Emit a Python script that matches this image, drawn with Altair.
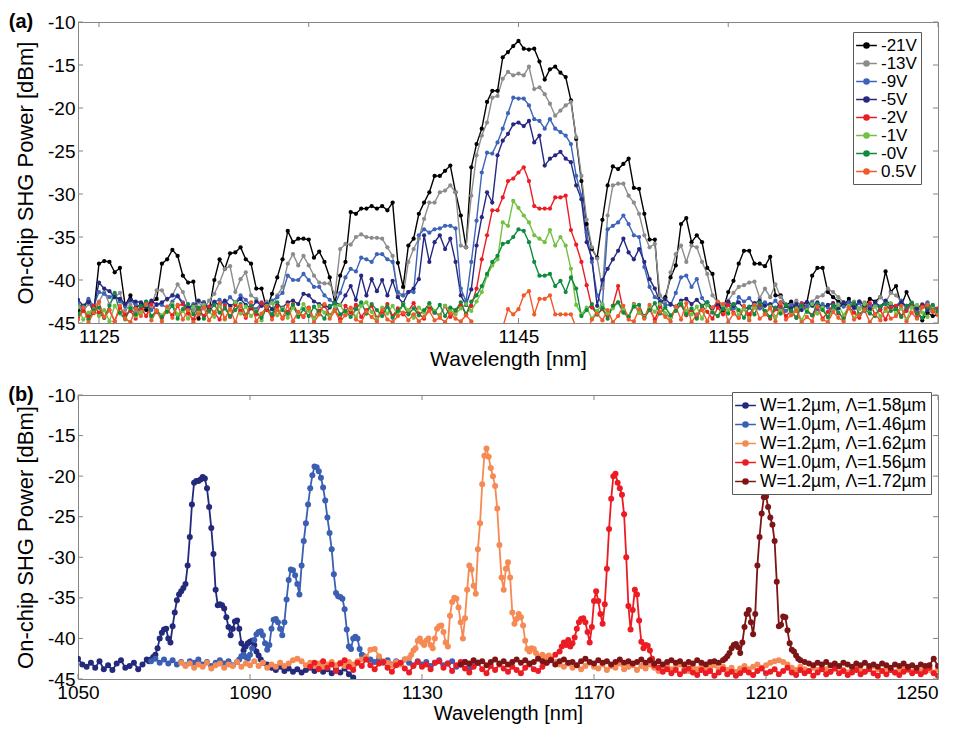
import altair as alt
import pandas as pd

alt.data_transformers.disable_max_rows()

FONT = "Liberation Sans"
GRAY = "#858585"

# ---------------- Panel (a): bias-voltage sweep ----------------
a_series = ["-21V", "-13V", "-9V", "-5V", "-2V", "-1V", "-0V", "0.5V"]
a_colors = ["#000000", "#8c8c8c", "#3d64b8", "#262880", "#ed1c24", "#74c043", "#0f8b3d", "#f15a29"]
a_start = 1124.0
a_step = 0.25
a_xticks = [1125, 1135, 1145, 1155, 1165]
y_ticks = [-45, -40, -35, -30, -25, -20, -15, -10]

a_m21 = [-43.5, -43.0, -42.4, -43.8, -38.1, -37.8, -37.9, -39.1,
         -38.6, -43.0, -41.8, -43.2, -42.8, -43.5, -42.6, -42.2,
         -38.1, -37.6, -36.5, -37.2, -39.5, -40.3, -40.2, -44.5,
         -42.6, -43.6, -40.0, -37.6, -38.7, -36.9, -36.8, -36.2,
         -37.6, -38.1, -41.0, -41.0, -43.4, -41.6, -39.7, -37.6,
         -34.3, -35.6, -35.2, -35.2, -35.3, -37.4, -36.7, -37.9,
         -39.7, -42.7, -39.5, -37.9, -32.1, -32.3, -31.7, -31.7,
         -31.4, -31.7, -31.4, -31.9, -31.0, -38.0, -40.8, -36.0,
         -35.2, -32.3, -31.0, -29.8, -27.9, -27.9, -27.3, -26.7,
         -29.8, -32.5, -36.2, -26.9, -24.2, -22.4, -19.3, -18.0,
         -18.0, -14.1, -13.5, -12.8, -12.2, -13.1, -13.2, -13.1,
         -14.6, -16.7, -15.5, -15.2, -15.9, -16.4, -19.1, -23.6,
         -28.5, -33.5, -36.4, -37.4, -33.0, -29.0, -26.8, -27.1,
         -26.5, -25.9, -29.3, -29.4, -32.3, -35.3, -35.3, -43.0,
         -42.0, -39.7, -38.3, -33.5, -32.8, -35.6, -34.8, -35.6,
         -38.6, -39.3, -43.0, -43.5, -41.4, -40.1, -38.1, -36.6,
         -36.6, -38.1, -38.1, -38.4, -37.3, -41.8, -41.8, -43.0,
         -42.5, -43.3, -42.8, -42.6, -39.5, -38.6, -38.6, -41.4,
         -42.0, -42.5, -43.0, -42.2, -43.2, -42.5, -43.0, -42.2,
         -42.5, -42.0, -39.0, -41.4, -40.7, -43.0, -41.4, -42.8,
         -43.5, -44.7, -43.8, -44.2, -44.0]

a_m13 = [-43.0, -43.6, -42.8, -43.2, -42.5, -41.4, -42.8, -42.0,
         -41.5, -43.5, -42.9, -43.6, -43.2, -42.5, -43.0, -41.2,
         -41.2, -42.3, -41.8, -40.5, -41.4, -43.0, -43.5, -42.6,
         -43.3, -42.4, -41.6, -40.3, -38.7, -38.4, -41.4, -39.9,
         -39.1, -41.8, -42.2, -43.0, -42.5, -43.4, -41.8, -40.8,
         -38.1, -37.0, -38.3, -37.2, -38.3, -39.5, -40.3, -40.4,
         -40.4, -41.7, -36.4, -35.8, -35.9, -35.0, -34.7, -35.0,
         -35.1, -35.1, -35.2, -36.2, -37.2, -41.8, -41.8, -37.9,
         -36.4, -35.2, -32.9, -31.0, -31.0, -29.8, -29.6, -29.0,
         -29.8, -36.0, -36.2, -30.2, -25.5, -23.2, -21.7, -18.8,
         -18.6, -16.6, -15.8, -16.2, -16.0, -16.2, -15.2, -17.8,
         -17.6, -18.4, -19.5, -20.9, -20.3, -19.7, -19.3, -23.4,
         -27.9, -33.0, -36.2, -37.5, -41.0, -32.5, -29.0, -28.8,
         -28.8, -30.2, -31.0, -32.3, -34.8, -36.2, -35.8, -41.8,
         -42.5, -39.1, -37.0, -36.0, -37.9, -36.0, -36.2, -37.9,
         -39.3, -41.8, -42.6, -43.0, -42.4, -41.5, -40.8, -40.6,
         -40.3, -40.2, -42.1, -41.0, -42.0, -40.5, -42.0, -42.8,
         -43.0, -42.4, -43.2, -42.8, -42.5, -42.0, -41.8, -41.0,
         -41.4, -42.0, -42.6, -43.0, -42.5, -43.3, -42.6, -43.0,
         -42.8, -42.0, -42.6, -41.5, -41.8, -42.5, -43.1, -42.6,
         -43.3, -42.8, -43.5, -43.0, -43.4]

a_m9 = [-42.6, -43.4, -42.2, -43.0, -41.4, -41.6, -42.0, -41.7,
        -42.5, -43.0, -42.4, -42.8, -43.2, -42.6, -43.5, -42.8,
        -42.9, -43.2, -42.5, -41.8, -42.6, -43.3, -42.8, -43.5,
        -42.6, -43.2, -42.5, -42.3, -42.8, -42.0, -42.6, -41.8,
        -42.3, -43.0, -43.4, -42.6, -42.9, -42.4, -42.0, -41.5,
        -39.5, -40.0, -40.0, -39.3, -40.0, -40.8, -40.8, -41.8,
        -42.3, -42.8, -41.5, -39.7, -38.7, -39.0, -37.4, -37.6,
        -37.9, -37.0, -37.0, -37.6, -37.9, -41.4, -41.8, -41.4,
        -41.4, -34.8, -34.1, -34.5, -34.1, -34.0, -33.7, -33.7,
        -34.0, -41.0, -42.5, -37.9, -33.1, -27.5, -25.2, -25.3,
        -24.0, -22.4, -20.6, -18.8, -18.9, -18.9, -19.7, -21.3,
        -21.5, -22.4, -21.3, -22.4, -22.8, -23.2, -24.2, -27.9,
        -30.2, -34.5, -37.9, -41.8, -42.9, -34.1, -33.7, -33.3,
        -32.5, -33.5, -34.8, -35.0, -38.5, -40.8, -42.0, -42.4,
        -42.9, -42.9, -41.5, -39.7, -39.5, -40.8, -39.9, -42.1,
        -42.9, -43.2, -42.6, -43.4, -42.8, -43.3, -42.0, -42.5,
        -42.1, -42.9, -43.3, -42.6, -43.0, -42.4, -43.2, -43.6,
        -42.9, -43.4, -42.7, -43.1, -42.6, -43.4, -42.8, -43.2,
        -43.5, -42.8, -43.1, -42.6, -43.3, -42.7, -43.6, -43.0,
        -42.8, -43.4, -42.5, -43.2, -43.0, -42.4, -43.3, -42.8,
        -43.6, -43.1, -42.6, -43.4, -43.8]

a_m5 = [-42.3, -43.0, -42.6, -43.2, -40.3, -41.0, -41.3, -42.0,
        -42.2, -42.8, -42.3, -42.5, -42.6, -43.1, -42.4, -42.9,
        -42.6, -42.2, -41.8, -41.9, -42.8, -43.2, -43.0, -42.4,
        -42.8, -43.3, -42.6, -42.9, -42.4, -43.0, -42.7, -42.2,
        -42.9, -43.3, -42.5, -43.0, -42.8, -43.4, -42.9, -43.2,
        -42.6, -42.4, -42.8, -41.6, -41.8, -42.5, -42.8, -43.0,
        -43.2, -42.6, -42.9, -41.8, -40.7, -42.3, -39.5, -41.8,
        -39.9, -41.3, -40.0, -41.8, -40.1, -42.0, -42.7, -41.4,
        -41.0, -39.9, -34.8, -37.9, -35.6, -34.8, -36.4, -35.2,
        -37.9, -41.8, -42.9, -41.1, -36.0, -32.7, -29.8, -31.0,
        -25.5, -23.8, -23.0, -21.9, -21.7, -22.1, -21.5, -24.0,
        -23.2, -26.7, -25.9, -25.5, -25.1, -25.9, -26.3, -29.0,
        -30.6, -35.6, -37.5, -43.0, -40.0, -38.7, -37.6, -36.6,
        -35.2, -36.8, -37.6, -36.4, -37.9, -39.9, -41.0, -42.6,
        -42.2, -42.8, -43.1, -42.4, -42.2, -42.8, -42.3, -43.0,
        -42.6, -43.3, -42.8, -43.4, -42.5, -43.0, -42.6, -43.3,
        -43.2, -42.7, -42.4, -43.0, -42.8, -43.4, -42.6, -42.9,
        -43.3, -42.8, -43.5, -42.6, -43.0, -42.6, -43.2, -42.9,
        -42.7, -43.3, -42.6, -43.0, -43.2, -42.5, -42.9, -43.4,
        -42.6, -43.1, -42.4, -42.8, -43.2, -42.6, -43.0, -42.7,
        -43.3, -42.9, -43.5, -43.1, -44.0]

a_m2 = [-44.5, -43.6, -44.2, -43.0, -43.8, -44.4, -43.5, -44.8,
        -43.2, -44.0, -43.6, -44.5, -43.3, -44.2, -42.8, -43.7,
        -44.4, -43.5, -44.1, -43.0, -42.8, -43.9, -44.6, -43.4,
        -44.2, -43.1, -43.8, -44.6, -43.0, -44.3, -42.9, -43.6,
        -44.4, -43.2, -44.0, -42.7, -43.5, -44.2, -43.1, -44.5,
        -43.7, -42.8, -43.9, -44.3, -43.2, -44.5, -43.6, -42.9,
        -44.1, -43.4, -44.6, -43.0, -43.8, -42.9, -44.3, -43.5,
        -43.0, -44.4, -43.7, -42.8, -44.2, -43.3, -44.0, -43.6,
        -42.7, -43.9, -44.5, -43.2, -43.8, -44.1, -43.0, -44.3,
        -43.6, -42.9, -44.0, -43.0, -41.0, -37.6, -34.8, -31.9,
        -31.9, -30.4, -28.5, -28.2, -27.5, -26.9, -28.5, -31.4,
        -31.7, -31.7, -31.7, -30.4, -30.4, -30.2, -34.2, -35.9,
        -37.9, -40.6, -43.2, -44.0, -43.4, -44.2, -43.0, -40.7,
        -43.6, -44.3, -42.8, -43.8, -44.2, -43.4, -44.6, -43.1,
        -43.9, -44.4, -43.2, -42.9, -44.1, -43.5, -44.3, -43.0,
        -43.7, -44.5, -43.2, -44.0, -42.9, -43.8, -44.4, -43.3,
        -44.0, -43.1, -42.9, -43.9, -44.5, -43.4, -43.0, -44.2,
        -43.6, -44.4, -42.8, -43.5, -44.1, -43.2, -44.5, -43.7,
        -42.9, -43.9, -44.3, -43.1, -43.8, -44.4, -43.3, -42.7,
        -44.0, -43.5, -44.6, -43.2, -43.0, -44.2, -43.6, -42.8,
        -44.4, -43.1, -42.9, -43.7, -43.3]

a_m1 = [-43.2, -44.6, -43.8, -43.4, -44.2, -43.5, -44.8, -43.0,
        -43.9, -44.6, -43.2, -44.2, -43.8, -42.9, -44.4, -43.5,
        -44.1, -43.3, -42.8, -44.0, -43.6, -44.5, -43.1, -43.8,
        -42.9, -43.7, -44.3, -43.0, -44.6, -43.4, -42.6, -43.9,
        -43.1, -44.2, -43.6, -44.7, -43.0, -42.7, -44.1, -43.3,
        -44.4, -43.2, -43.9, -42.8, -43.6, -44.5, -43.0, -43.8,
        -44.2, -43.1, -42.9, -44.0, -43.4, -44.3, -43.0, -42.6,
        -43.7, -44.5, -43.2, -43.9, -43.0, -44.1, -42.8, -43.5,
        -44.4, -43.2, -43.8, -42.9, -43.6, -44.2, -43.0, -43.5,
        -44.0, -43.3, -42.8, -43.6, -42.5, -41.4, -39.5, -38.3,
        -37.6, -33.3, -33.7, -30.8, -31.6, -32.5, -33.3, -34.8,
        -35.2, -35.6, -34.2, -36.0, -35.0, -36.0, -38.7, -42.9,
        -44.0, -43.2, -44.5, -43.6, -42.8, -43.9, -43.3, -42.6,
        -43.4, -44.2, -42.9, -43.8, -44.3, -43.1, -43.7, -42.8,
        -43.9, -44.4, -43.2, -42.7, -43.6, -44.0, -43.1, -44.5,
        -42.9, -43.7, -44.2, -43.0, -43.5, -42.8, -44.1, -43.4,
        -44.6, -43.2, -42.7, -43.9, -43.1, -44.3, -43.6, -42.9,
        -44.0, -43.3, -44.7, -43.5, -42.8, -43.9, -43.2, -44.4,
        -43.6, -42.9, -44.1, -43.0, -44.5, -43.4, -42.8, -43.8,
        -43.1, -44.2, -43.6, -42.7, -44.0, -43.3, -44.6, -43.2,
        -42.9, -43.8, -44.3, -43.1, -44.0]

a_m0 = [-44.0, -43.1, -44.6, -43.5, -43.2, -44.4, -43.0, -41.5,
        -43.8, -44.5, -43.3, -44.0, -43.0, -42.5, -44.2, -43.6,
        -44.3, -43.7, -43.0, -44.5, -43.4, -42.8, -44.0, -43.2,
        -44.5, -43.6, -42.9, -43.8, -43.3, -44.2, -43.5, -42.8,
        -44.1, -43.0, -43.7, -44.4, -43.2, -44.0, -42.6, -43.5,
        -43.9, -42.9, -44.3, -43.4, -44.2, -43.1, -43.8, -44.5,
        -43.0, -42.7, -44.0, -43.6, -44.3, -43.4, -42.6, -43.9,
        -42.8, -43.5, -44.2, -43.1, -44.4, -43.6, -42.9, -44.0,
        -43.3, -44.1, -43.5, -42.7, -43.8, -42.9, -44.2, -43.2,
        -43.5, -42.6, -44.0, -42.5, -41.8, -40.7, -39.3, -37.9,
        -37.2, -35.8, -35.6, -35.0, -34.1, -34.3, -35.6, -37.9,
        -39.5, -39.5, -39.3, -40.7, -40.1, -41.4, -39.7, -41.0,
        -44.2, -43.5, -42.8, -44.0, -43.3, -44.5, -43.0, -42.6,
        -43.8, -44.3, -43.1, -42.9, -44.4, -43.5, -42.7, -43.9,
        -43.2, -44.1, -43.6, -42.8, -44.0, -43.3, -44.5, -43.0,
        -42.6, -43.8, -44.2, -43.4, -43.9, -42.8, -43.5, -44.4,
        -43.1, -44.0, -42.7, -43.6, -44.3, -43.2, -43.9, -42.9,
        -43.6, -44.4, -43.0, -43.7, -44.1, -42.8, -43.5, -44.3,
        -43.0, -43.8, -44.5, -43.2, -42.7, -44.0, -43.4, -43.9,
        -44.2, -43.1, -42.8, -43.6, -43.4, -44.3, -43.0, -42.7,
        -43.9, -44.4, -43.2, -42.9, -43.6]

a_p05 = [-44.6, -43.2, -44.9, -43.8, -42.6, -44.3, -43.5, -44.8,
         -43.0, -44.5, -44.9, -43.3, -44.2, -42.8, -44.7, -43.6,
         -44.8, -43.1, -44.4, -42.9, -44.6, -43.5, -44.9, -44.0,
         -43.2, -44.7, -43.8, -42.7, -44.5, -43.4, -44.9, -43.0,
         -44.2, -42.6, -44.8, -43.9, -43.1, -44.6, -43.5, -44.4,
         -42.9, -44.8, -43.7, -44.2, -43.3, -44.9, -44.0, -42.8,
         -44.5, -43.6, -44.8, -44.1, -43.2, -44.6, -44.9, -43.7,
         -44.3, -44.8, -43.5, -44.6, -44.9, -44.2, -43.8, -44.7,
         -44.0, -44.8, -44.3, -43.6, -44.7, -44.4, -44.9, -43.9,
         -44.5, -44.8, -44.1, -44.8, -46.0, -47.0, -48.0, -47.5,
         -47.0, -45.5, -43.4, -44.0, -43.4, -41.8, -41.3, -44.0,
         -42.2, -42.2, -41.8, -44.0, -44.0, -44.0, -44.0, -45.5,
         -47.0, -46.0, -44.6, -43.9, -44.7, -43.5, -44.9, -44.2,
         -43.0, -44.6, -44.8, -43.4, -44.5, -42.9, -44.9, -43.7,
         -44.3, -44.8, -43.1, -44.6, -42.7, -44.9, -44.0, -43.5,
         -44.8, -43.2, -42.5, -42.8, -44.9, -43.9, -44.4, -43.0,
         -44.7, -42.9, -44.5, -44.0, -43.3, -44.8, -42.7, -44.6,
         -44.1, -43.6, -44.9, -44.3, -44.8, -43.1, -44.6, -44.9,
         -43.7, -44.4, -44.8, -43.2, -44.6, -44.1, -43.5, -44.9,
         -44.0, -44.7, -43.3, -44.5, -44.2, -43.0, -44.8, -43.8,
         -44.5, -43.2, -42.9, -43.6, -44.1]

# ---------------- Panel (b): different devices ----------------
b_series = ["W=1.2µm, Λ=1.58µm", "W=1.0µm, Λ=1.46µm", "W=1.2µm, Λ=1.62µm",
            "W=1.0µm, Λ=1.56µm", "W=1.2µm, Λ=1.72µm"]
b_colors = ["#232a7c", "#3b5fb3", "#f58a55", "#ec1c24", "#7d1517"]
b_xticks = [1050, 1090, 1130, 1170, 1210, 1250]

# each trace: (start wavelength, step [nm], values)
navy_lo = (1050.0, 1.0, [-42.5, -43.2, -43.5, -43.0, -43.6, -42.8, -43.8, -43.3, -43.9, -43.1,
                         -42.7, -43.6, -43.4, -43.0, -43.8, -43.2, -42.6])
navy_pk = (1066.5, 0.5, [-42.8, -42.6, -42.3, -42.0, -41.2, -40.0, -39.3, -38.9, -38.8, -40.0,
                         -40.5, -38.5, -36.8, -35.3, -34.6, -34.2, -33.8, -33.3, -31.0, -27.5,
                         -23.5, -20.8, -20.6, -20.6, -20.4, -20.1, -20.3, -21.5, -23.8, -26.4,
                         -29.6, -34.0, -35.9, -35.8, -35.9, -36.3, -37.4, -38.6, -39.6, -38.8,
                         -37.9, -37.8, -38.8, -40.6, -41.5, -41.0, -40.6, -40.4, -40.3, -40.8,
                         -41.6, -42.1, -42.6, -43.0])
navy_hi = (1094.0, 1.0, [-43.2, -43.6, -43.9, -43.5, -44.0, -43.7, -44.1, -43.8, -44.2, -43.9,
                         -43.6, -44.0, -43.7, -44.1, -43.8, -44.3, -43.9, -44.2, -43.7, -44.4,
                         -44.8, -46.5])

blue_lo = (1067.0, 1.0, [-42.8, -42.5, -43.0, -42.6, -43.1, -42.7, -43.2, -42.9, -43.3, -42.8,
                         -43.0, -42.6, -43.2, -42.9, -43.4, -43.0, -42.7, -43.1, -42.8, -43.3,
                         -42.9])
blue_pk = (1087.5, 0.5, [-42.6, -42.2, -42.0, -42.3, -42.5, -42.0, -41.2, -40.2, -39.5, -39.2,
                         -39.1, -39.6, -40.6, -41.4, -40.8, -38.8, -37.7, -37.6, -38.0, -38.8,
                         -39.6, -38.0, -35.2, -32.8, -31.5, -31.6, -32.2, -33.3, -34.6, -31.0,
                         -28.0, -25.8, -23.5, -21.5, -19.9, -18.8, -18.9, -19.4, -20.2, -21.4,
                         -23.0, -25.1, -27.0, -29.0, -32.1, -34.4, -34.8, -34.9, -35.1, -36.4,
                         -38.9, -41.0, -41.3, -40.0, -39.8, -40.0, -41.3, -42.0, -42.2, -42.4])
blue_hi = (1118.0, 1.0, [-42.6, -42.9, -42.5, -43.0, -42.7, -43.2, -42.8, -43.1, -42.6, -43.0,
                         -43.3, -42.8, -43.2, -42.9, -43.4, -43.0, -42.7, -43.3, -43.1, -42.8,
                         -43.5, -43.2, -42.9, -43.6, -43.3, -43.0])

orange_lo = (1074.0, 1.0, [-43.0, -43.4, -43.1, -43.6, -43.2, -43.5, -43.0, -43.7, -43.3, -43.1,
                           -43.6, -43.2, -43.4, -42.9, -43.5, -43.1, -43.3, -42.8, -43.4, -43.0,
                           -43.6, -43.2, -43.5, -43.0, -43.4, -43.1, -42.7, -42.5, -42.8, -43.3,
                           -43.0, -43.4, -43.1, -43.5, -43.2, -42.9, -43.3, -43.0, -43.4, -42.9,
                           -43.2, -42.8, -42.6, -42.3, -41.4, -41.3, -42.2, -42.8, -43.0, -43.3,
                           -42.9, -43.2, -42.6, -42.4])
orange_pk = (1127.5, 0.5, [-42.0, -41.5, -41.2, -40.3, -40.0, -40.5, -40.8, -40.3, -40.0, -40.8,
                           -41.2, -40.0, -38.8, -38.5, -38.4, -39.2, -40.5, -41.0, -37.2, -35.5,
                           -35.0, -35.1, -36.2, -38.0, -40.0, -37.5, -34.0, -31.0, -31.5, -33.5,
                           -34.5, -29.0, -25.8, -21.0, -17.5, -16.6, -17.6, -19.0, -20.0, -21.2,
                           -24.0, -28.5, -32.5, -34.0, -31.4, -30.6, -32.5, -36.8, -38.2, -37.6,
                           -37.0, -37.4, -38.4, -40.3, -41.3, -41.6, -41.2, -41.3, -41.8, -42.2,
                           -42.4, -42.0, -42.5, -42.3, -42.1, -42.6])
orange_hi = (1161.0, 1.0, [-42.9, -43.2, -43.5, -43.1, -43.6, -43.3, -43.8, -43.4, -43.0, -43.5,
                           -43.7, -43.2, -43.9, -43.4, -43.6, -43.1, -43.8, -43.5, -43.3, -43.9,
                           -43.4, -43.7, -43.2, -43.6, -44.0, -43.5, -43.3, -43.8, -43.6, -43.2,
                           -43.7, -44.0, -43.5, -43.8, -43.4, -43.9, -43.6, -43.3, -43.8, -43.5,
                           -43.9, -43.6, -44.1, -43.7, -43.4, -43.8, -43.5, -43.2, -43.6, -43.3,
                           -43.0, -42.8, -42.7, -42.9, -43.2, -43.6, -43.9, -43.5, -43.8, -44.0,
                           -43.6, -43.9, -43.4, -43.8, -44.1, -43.7, -43.5, -43.9, -44.2, -43.8,
                           -43.5, -43.9, -44.1, -43.7, -43.4, -43.8, -44.0, -43.6, -43.9, -44.2,
                           -43.8, -43.5, -43.9, -44.1, -43.7, -44.0, -43.6, -43.9, -44.2, -43.8])

red_lo = (1104.0, 1.0, [-43.5, -43.0, -43.8, -42.8, -43.6, -43.2, -44.0, -43.1, -42.7, -43.5,
                        -43.9, -43.0, -43.4, -42.6, -43.3, -43.8, -43.1, -42.9, -43.6, -44.1,
                        -43.3, -43.0, -43.7, -44.2, -43.4, -42.9, -43.5, -43.2, -43.8, -43.0,
                        -42.8, -43.6, -43.1, -44.0, -43.3, -42.9, -43.7, -44.2, -43.5, -43.0,
                        -43.8, -44.3, -43.4, -43.9, -43.2, -43.7, -44.1, -43.5, -43.9, -44.3,
                        -43.6, -43.2, -43.8, -44.0, -43.5, -43.0, -42.6, -42.0, -41.6])
red_pk = (1162.5, 0.5, [-41.0, -40.5, -40.8, -40.2, -41.0, -40.6, -39.9, -38.8, -38.0, -37.6,
                        -37.5, -38.0, -39.2, -40.5, -38.6, -35.4, -34.2, -35.4, -37.0, -38.2,
                        -35.8, -31.4, -26.5, -22.8, -20.0, -19.7, -20.8, -21.5, -22.3, -24.7,
                        -30.0, -36.0, -38.9, -36.5, -34.0, -34.6, -37.8, -40.4, -41.2, -40.8,
                        -40.9, -41.5, -42.5, -43.3])
red_hi = (1185.0, 1.0, [-43.6, -44.1, -43.8, -44.3, -43.9, -44.4, -44.0, -43.7, -44.2, -44.5,
                        -43.9, -44.3, -44.0, -44.6, -44.2, -43.8, -44.4, -44.1, -44.6, -44.3,
                        -43.9, -44.2, -44.5, -44.0, -43.7, -44.3, -44.1, -43.8, -44.4, -44.0,
                        -43.6, -44.2, -44.5, -43.9, -44.3, -44.0, -44.6, -44.2, -43.8, -44.4,
                        -44.1, -43.7, -44.3, -44.0, -44.5, -44.2, -43.9, -44.4, -44.1, -43.8,
                        -44.3, -44.6, -44.0, -44.4, -43.9, -44.2, -44.5, -44.1, -43.8, -44.3,
                        -44.0, -44.4, -44.1, -43.6, -44.3, -44.6])

dred_lo = (1139.0, 1.0, [-43.2, -42.9, -43.1, -42.7, -43.0, -42.8, -43.3, -42.9, -42.6, -43.1,
                         -42.8, -43.2, -42.9, -42.6, -43.0, -42.7, -43.1, -42.9, -42.5, -42.8,
                         -43.0, -42.7, -43.2, -42.8, -42.6, -43.0, -42.9, -43.3, -42.8, -42.5,
                         -42.9, -43.1, -42.7, -43.0, -42.8, -43.2, -42.9, -42.6, -43.0, -42.8,
                         -43.1, -42.9, -42.6, -43.0, -42.7, -43.1, -42.8, -43.2, -42.9, -42.7,
                         -43.0, -42.8, -43.2, -42.9, -43.1, -42.7, -43.0, -43.2, -42.9, -42.8,
                         -43.0, -42.7])
dred_pk = (1200.5, 0.5, [-42.5, -42.2, -41.8, -41.2, -40.8, -40.7, -41.1, -41.8, -40.5, -38.6,
                         -37.0, -36.5, -38.0, -39.5, -37.0, -31.0, -27.5, -24.6, -22.6, -22.5,
                         -23.8, -25.1, -26.0, -28.0, -33.0, -38.5, -38.3, -37.3, -37.4, -39.0,
                         -40.6, -41.4, -41.6, -42.1, -42.5, -42.7])
dred_hi = (1219.0, 1.0, [-42.9, -43.1, -43.3, -43.0, -43.2, -42.9, -43.3, -43.1, -43.4, -43.0,
                         -43.2, -43.5, -43.1, -43.3, -43.0, -43.4, -43.2, -43.5, -43.1, -43.3,
                         -43.6, -43.2, -43.4, -43.1, -43.5, -43.3, -43.6, -43.2, -43.4, -43.3,
                         -42.5, -43.4])

b_traces = [[navy_lo, navy_pk, navy_hi], [blue_lo, blue_pk, blue_hi],
            [orange_lo, orange_pk, orange_hi], [red_lo, red_pk, red_hi],
            [dred_lo, dred_pk, dred_hi]]

# ---------------- tables ----------------
rows_a = []
for name, vals in zip(a_series, [a_m21, a_m13, a_m9, a_m5, a_m2, a_m1, a_m0, a_p05]):
    for i, v in enumerate(vals):
        rows_a.append({"wl": a_start + a_step * i, "p": v, "s": name})
df_a = pd.DataFrame(rows_a)

rows_b = []
for name, segs in zip(b_series, b_traces):
    for start, step, vals in segs:
        for i, v in enumerate(vals):
            rows_b.append({"wl": start + step * i, "p": v, "s": name})
df_b = pd.DataFrame(rows_b)

SYMBOL = "M-1.22,0H1.22M-0.3,0A0.3,0.3,0,1,1,0.3,0A0.3,0.3,0,1,1,-0.3,0Z"
Y_TITLE = "On-chip SHG Power [dBm]"


def panel(df, series, colors, xdom, xticks, width, height, leg_x, leg_y, tag,
          dot, lw, leg_font, row_pad, lab_pad, title_pad, x_title_size):
    xs = alt.Scale(domain=xdom, nice=False, zero=False)
    ys = alt.Scale(domain=[-45, -10], nice=False, zero=False)
    last = xticks[-1]
    x_axis = alt.Axis(values=xticks, format="d", title="Wavelength [nm]",
                      labelPadding=lab_pad, titlePadding=title_pad,
                      titleFontSize=x_title_size,
                      labelAlign={"condition": {"test": f"datum.value == {last}",
                                                "value": "right"},
                                  "value": "center"})
    y_axis = alt.Axis(values=y_ticks, labelExpr="'' + datum.value",
                      title=Y_TITLE, labelPadding=3, titlePadding=10, titleFontSize=22)
    x = alt.X("wl:Q", scale=xs, axis=x_axis)
    y = alt.Y("p:Q", scale=ys, axis=y_axis)
    leg = alt.Legend(title=None, orient="none", legendX=leg_x, legendY=leg_y,
                     symbolType=SYMBOL, symbolSize=289, symbolStrokeWidth=1.5,
                     symbolOpacity=1, labelFont=FONT, labelFontSize=leg_font,
                     labelColor="black", labelOffset=5, labelLimit=400, padding=4,
                     rowPadding=row_pad, strokeColor="#5a5a5a", fillColor="white")
    cscale = alt.Scale(domain=series, range=colors)
    lines = alt.Chart(df).mark_line(strokeWidth=lw, clip=True).encode(
        x=x, y=y, stroke=alt.Stroke("s:N", scale=cscale, legend=leg, sort=series))
    pts = alt.Chart(df).mark_circle(size=dot, opacity=1, clip=True).encode(
        x=x, y=y, fill=alt.Fill("s:N", scale=cscale, legend=leg, sort=series))

    xt = pd.DataFrame({"wl": xticks})
    yt = pd.DataFrame({"p": y_ticks})
    tick_top = alt.Chart(xt).mark_rule(color=GRAY).encode(
        x=x, y=alt.value(0), y2=alt.value(5))
    tick_bot = alt.Chart(xt).mark_rule(color=GRAY).encode(
        x=x, y=alt.value(height), y2=alt.value(height - 5))
    tick_l = alt.Chart(yt).mark_rule(color=GRAY).encode(
        y=y, x=alt.value(0), x2=alt.value(5))
    tick_r = alt.Chart(yt).mark_rule(color=GRAY).encode(
        y=y, x=alt.value(width), x2=alt.value(width - 5))
    lab = alt.Chart(pd.DataFrame({"t": [tag]})).mark_text(
        font=FONT, fontSize=20, fontWeight="bold", align="center",
        baseline="middle", color="black").encode(
        text="t:N", x=alt.value(-57), y=alt.value(0))
    return alt.layer(lines, pts, tick_top, tick_bot, tick_l, tick_r, lab).properties(
        width=width, height=height)


pa = panel(df_a, a_series, a_colors, [1124, 1165], a_xticks, 860, 301, 775, 10, "(a)",
           18, 1.4, 17, 0.0, 4, 2, 21)
pb = panel(df_b, b_series, b_colors, [1050, 1250], b_xticks, 860, 284, 654, -3, "(b)",
           36, 1.8, 17.5, 1.0, 4, 1, 20)

chart = alt.vconcat(pa, pb, spacing=14).resolve_scale(
    stroke="independent", fill="independent", x="independent"
).configure_view(stroke=GRAY, strokeWidth=1).configure_axis(
    labelFont=FONT, titleFont=FONT, labelFontSize=19, titleFontSize=21,
    titleFontWeight="normal", labelColor="black", titleColor="black",
    ticks=False, domain=False, grid=False, labelFlush=False
).properties(padding={"left": -1, "top": 3, "right": 0, "bottom": 0})

chart.save("out.html", embed_options={"renderer": "svg", "actions": False})
